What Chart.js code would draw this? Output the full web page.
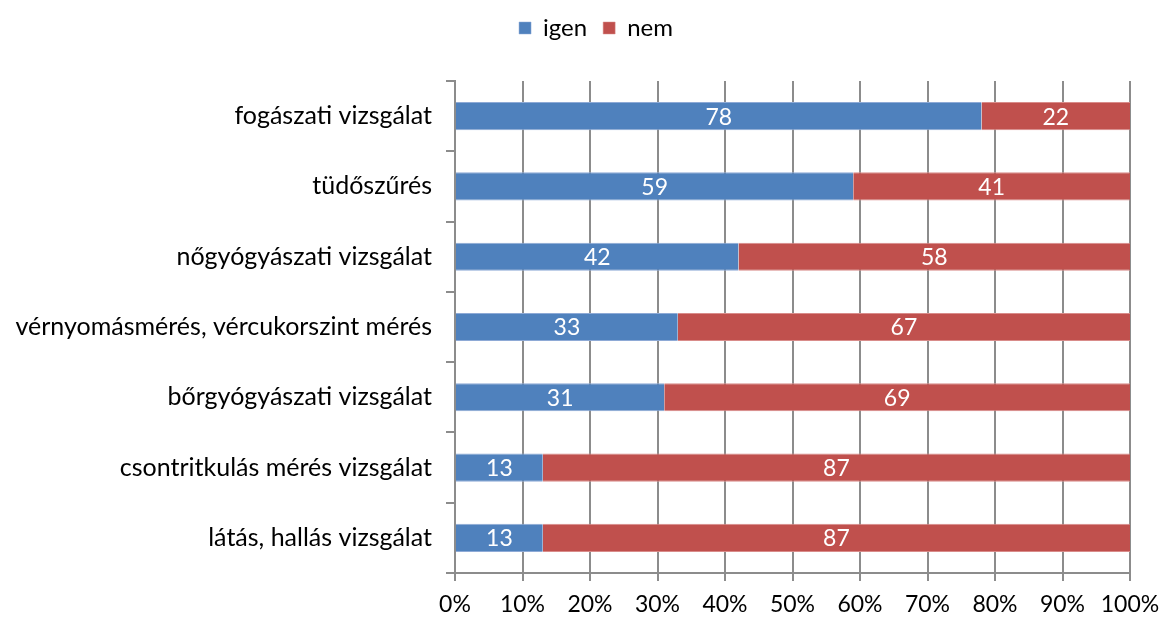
<!DOCTYPE html>
<html>
<head>
<meta charset="utf-8">
<script src="https://cdn.jsdelivr.net/npm/chart.js@4"></script>
<style>
  html, body { margin: 0; padding: 0; background: #fff; }
  #wrap { width: 1161px; height: 619px; }
</style>
</head>
<body>
<div id="wrap"><canvas id="chart" width="1161" height="619"></canvas></div>
<script>
const categories = [
  'fogászati vizsgálat',
  'tüdőszűrés',
  'nőgyógyászati vizsgálat',
  'vérnyomásmérés, vércukorszint mérés',
  'bőrgyógyászati vizsgálat',
  'csontritkulás mérés vizsgálat',
  'látás, hallás vizsgálat'
];
const igen = [78, 59, 42, 33, 31, 13, 13];
const nem = [22, 41, 58, 67, 69, 87, 87];
const xTicks = [0, 10, 20, 30, 40, 50, 60, 70, 80, 90, 100];

const fontFamily = 'Lato, "Open Sans", sans-serif';

// values written in the middle of each bar segment
const barLabels = {
  id: 'barLabels',
  afterDatasetsDraw(chart) {
    const ctx = chart.ctx;
    ctx.save();
    ctx.fillStyle = '#ffffff';
    ctx.font = '23px ' + fontFamily;
    ctx.textAlign = 'center';
    ctx.textBaseline = 'middle';
    chart.data.datasets.forEach((ds, i) => {
      chart.getDatasetMeta(i).data.forEach((bar, j) => {
        const x = (bar.x + bar.base) / 2;
        ctx.fillText(String(ds.data[j]), x, bar.y + 1);
      });
    });
    ctx.restore();
  }
};

// legend block: fixed height, and nudged right to sit where the original one does
const legendBox = {
  id: 'legendBox',
  beforeInit(chart) {
    const legend = chart.legend;
    const fit = legend.fit;
    legend.fit = function () {
      fit.call(this);
      this.height = 81;
    };
  },
  afterLayout(chart) {
    chart.legend.left += 31;
    chart.legend.right += 31;
  }
};

new Chart(document.getElementById('chart').getContext('2d'), {
  type: 'bar',
  data: {
    labels: categories,
    datasets: [
      {
        label: 'igen',
        data: igen,
        backgroundColor: '#4F81BD',
        borderColor: '#8EAAD6',
        borderWidth: { top: 1, bottom: 1, left: 0, right: 0 },
        borderSkipped: false
      },
      {
        label: 'nem',
        data: nem,
        backgroundColor: '#C0504D',
        borderColor: '#D98C8A',
        borderWidth: { top: 1, bottom: 1, left: 0, right: 0 },
        borderSkipped: false
      }
    ]
  },
  options: {
    indexAxis: 'y',
    responsive: false,
    animation: false,
    layout: { padding: { left: 0, right: 31, top: 0, bottom: 0 } },
    datasets: {
      bar: { categoryPercentage: 1, barPercentage: 0.4 }
    },
    plugins: {
      legend: {
        position: 'top',
        labels: {
          boxWidth: 12,
          boxHeight: 12,
          padding: 16,
          color: '#000',
          font: { family: fontFamily, size: 24 }
        }
      },
      tooltip: { enabled: false }
    },
    scales: {
      x: {
        stacked: true,
        min: 0,
        max: 100,
        afterBuildTicks(axis) {
          axis.ticks = xTicks.map(v => ({ value: v }));
        },
        afterFit(axis) {
          axis.height = 46;
          axis.paddingLeft = 0;
          axis.paddingRight = 0;
        },
        ticks: {
          color: '#000',
          padding: 10,
          font: { family: fontFamily, size: 23 },
          callback: v => v + '%'
        },
        grid: {
          color: '#8c8c8c',
          lineWidth: 2,
          tickLength: 8
        },
        border: { color: '#8c8c8c', width: 2 }
      },
      y: {
        stacked: true,
        afterFit(axis) {
          axis.width = 455;
        },
        ticks: {
          color: '#000',
          padding: 14,
          font: { family: fontFamily, size: 25 }
        },
        grid: {
          offset: true,
          drawOnChartArea: false,
          color: '#8c8c8c',
          lineWidth: 2,
          tickLength: 9
        },
        border: { color: '#8c8c8c', width: 2 }
      }
    }
  },
  plugins: [barLabels, legendBox]
});
</script>
</body>
</html>
